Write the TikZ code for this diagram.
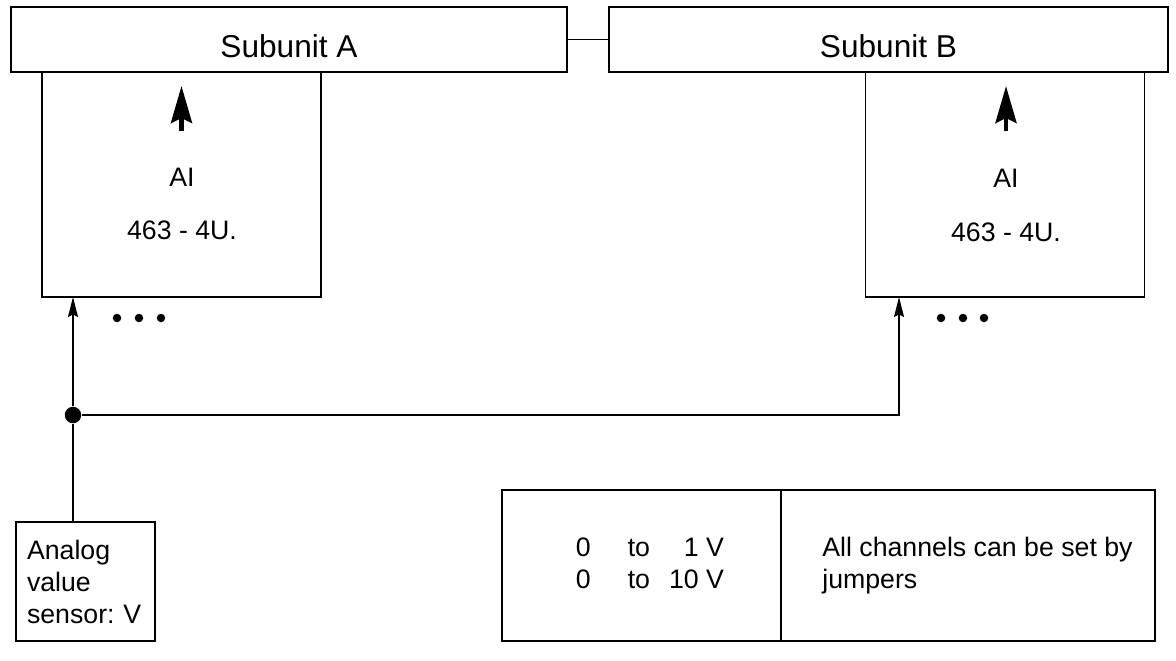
\documentclass[tikz,border=0pt]{standalone}
\usepackage{fontspec}
\setmainfont{Liberation Sans}
\usetikzlibrary{arrows.meta,positioning,calc}
\frenchspacing
\tikzset{
  % subunit bar on top
  subbar/.style={rectangle, draw, line width=0.9pt, minimum width=#1, minimum height=1.3cm,
                 inner sep=0pt, outer sep=0pt, font=\fontsize{18}{22}\selectfont,
                 text height=20pt, text depth=0pt},
  % analog input module
  modbox/.style={rectangle, draw, line width=0.9pt, minimum width=5.58cm, minimum height=4.5cm,
                 inner sep=0pt, outer sep=0pt},
  % plain cell / box
  cellbox/.style={rectangle, draw, line width=0.9pt, minimum width=#1, minimum height=3.02cm,
                  inner sep=0pt, outer sep=0pt},
  % body text
  txt/.style={inner sep=0pt, font=\fontsize{15.2}{18.2}\selectfont},
  % thin wire
  wire/.style={line width=0.9pt},
  % signal arrow into a module
  sigarrow/.style={-{Stealth[length=0.4cm,width=0.2cm,inset=0.05cm]}, line width=0.9pt},
  % bus arrow inside a module
  busarrow/.style={-{Stealth[length=0.74cm,width=0.42cm,inset=0.1cm]}, line width=2.6pt},
  % junction dot
  jdot/.style={circle, fill, inner sep=0pt, minimum size=0.33cm},
}
\begin{document}
\begin{tikzpicture}[x=0.02cm, y=-0.02cm]
  \useasboundingbox (0,0) rectangle (1176,660);

  % subunits
  \node[subbar=11.12cm] (subA) at (289,39.5) {Subunit A};
  \node[subbar=11.18cm] (subB) at (888.5,39.5) {Subunit B};
  \draw[wire] (subA.east) -- (subB.west);

  % modules
  \node[modbox] (modA) at (181.5,184.5) {};
  \node[modbox] (modB) at (1005,184.5) {};
  \node[txt] (aiA) at (182,177) {AI};
  \node[txt] (typA) at (182,230) {463 - 4U.};
  \node[txt] (aiB) at (1006,178) {AI};
  \node[txt] (typB) at (1006,232) {463 - 4U.};
  \draw[busarrow] ([yshift=-1.18cm]modA.north) -- ([yshift=-0.28cm]modA.north);
  \draw[busarrow] ([xshift=0.02cm,yshift=-1.18cm]modB.north) -- ([xshift=0.02cm,yshift=-0.28cm]modB.north);

  % more channels
  \foreach \dx in {117,139,161,941,963,984}
    \fill (\dx,318) circle (0.085cm);

  % sensor and wiring
  \node[cellbox=2.78cm, minimum height=2.38cm, txt, align=left, text width=2.34cm,
        inner xsep=0.22cm, draw] (sensor) at (85.5,581.5) {Analog\\value\\sensor: V};
  \node[jdot] (junc) at (73,415) {};
  \coordinate (inB) at (899,297);
  \draw[wire] (sensor.north -| junc) -- (junc);
  \draw[sigarrow] (junc) -- (junc |- modA.south);
  \draw[sigarrow] (junc) -| (inB);

  % ranges table
  \node[cellbox=5.58cm] (rangeCell) at (641.5,565.5) {};
  \node[cellbox=7.48cm] (noteCell) at (968,565.5) {};
  \node[txt] (ranges) at (650,566)
    {\begin{tabular}{@{}l@{\hspace{0.74cm}}l@{\hspace{0.38cm}}r@{}}
       0 & to & 1 V\\
       0 & to & 10 V
     \end{tabular}};
  \node[txt, anchor=west, align=left] (note) at (822,566)
    {All channels can be set by\\jumpers};
\end{tikzpicture}
\end{document}
